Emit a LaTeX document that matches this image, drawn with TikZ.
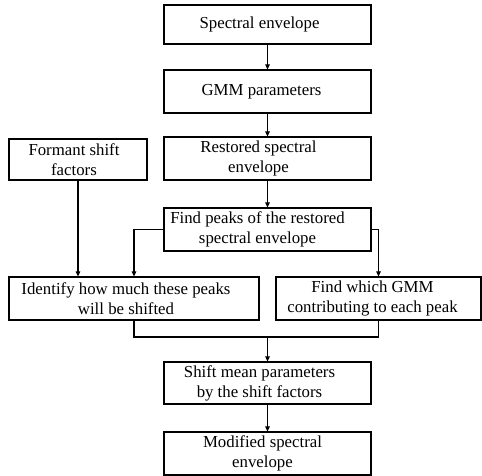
\documentclass[tikz,border=0pt]{standalone}
\usepackage{fontspec}
\setmainfont{Liberation Serif}
\usetikzlibrary{arrows.meta}
\begin{document}
\begin{tikzpicture}[x=1pt,y=1pt,
  box/.style={draw, line width=1.2pt, rectangle, inner sep=0pt},
  txt/.style={align=center, inner sep=0pt, font=\fontsize{16.8}{20}\selectfont},
  conn/.style={line width=1.1pt},
  arr/.style={line width=1.1pt, -{Triangle[length=5pt,width=4.5pt]}}]
\useasboundingbox (0,0) rectangle (482,475);
% boxes
\node[box, minimum width=207pt, minimum height=39pt] (b1) at (267.5,450.5) {};
\node[box, minimum width=207pt, minimum height=43pt] (b2) at (267.5,383.5) {};
\node[box, minimum width=207pt, minimum height=43pt] (b3) at (267.5,316.5) {};
\node[box, minimum width=138pt, minimum height=41pt] (fs) at (78,315.5) {};
\node[box, minimum width=207pt, minimum height=43pt] (b4) at (267.5,245.5) {};
\node[box, minimum width=250pt, minimum height=43pt] (id) at (134,176.5) {};
\node[box, minimum width=205pt, minimum height=43pt] (fw) at (378.5,176.5) {};
\node[box, minimum width=207pt, minimum height=42pt] (sh) at (267.5,92) {};
\node[box, minimum width=207pt, minimum height=43pt] (md) at (267.5,21.5) {};
% texts
\node[txt] (t1) at ([xshift=-8pt]b1.center) {Spectral envelope};
\node[txt] (t2) at ([xshift=-6pt]b2.center) {GMM parameters};
\node[txt] (t3) at ([xshift=-9pt]b3.center) {Restored spectral\\envelope};
\node[txt] (tf) at ([xshift=-4pt]fs.center) {Formant shift\\factors};
\node[txt] (t4) at ([xshift=-10pt]b4.center) {Find peaks of the restored\\spectral envelope};
\node[txt] (ti) at ([xshift=-8pt]id.center) {Identify how much these peaks\\will be shifted};
\node[txt] (tw) at ([xshift=-6pt]fw.center) {Find which GMM\\contributing to each peak};
\node[txt] (ts) at ([xshift=-8pt]sh.center) {Shift mean parameters\\by the shift factors};
\node[txt] (tm) at ([xshift=-5pt]md.center) {Modified spectral\\envelope};
% connectors
\draw[arr] (b1) -- (b2);
\draw[arr] (b2) -- (b3);
\draw[arr] (b3) -- (b4);
\draw[arr] (b4.west) -| (id.north);
\draw[arr] (b4.east) -| (fw.north);
\draw[arr] (fs.south) -- (fs.south |- id.north);
\coordinate (j) at (267.5,138);
\draw[conn] (id.south) |- (j) -| (fw.south);
\draw[arr] (j) -- (sh.north);
\draw[arr] (sh) -- (md);
\end{tikzpicture}
\end{document}
